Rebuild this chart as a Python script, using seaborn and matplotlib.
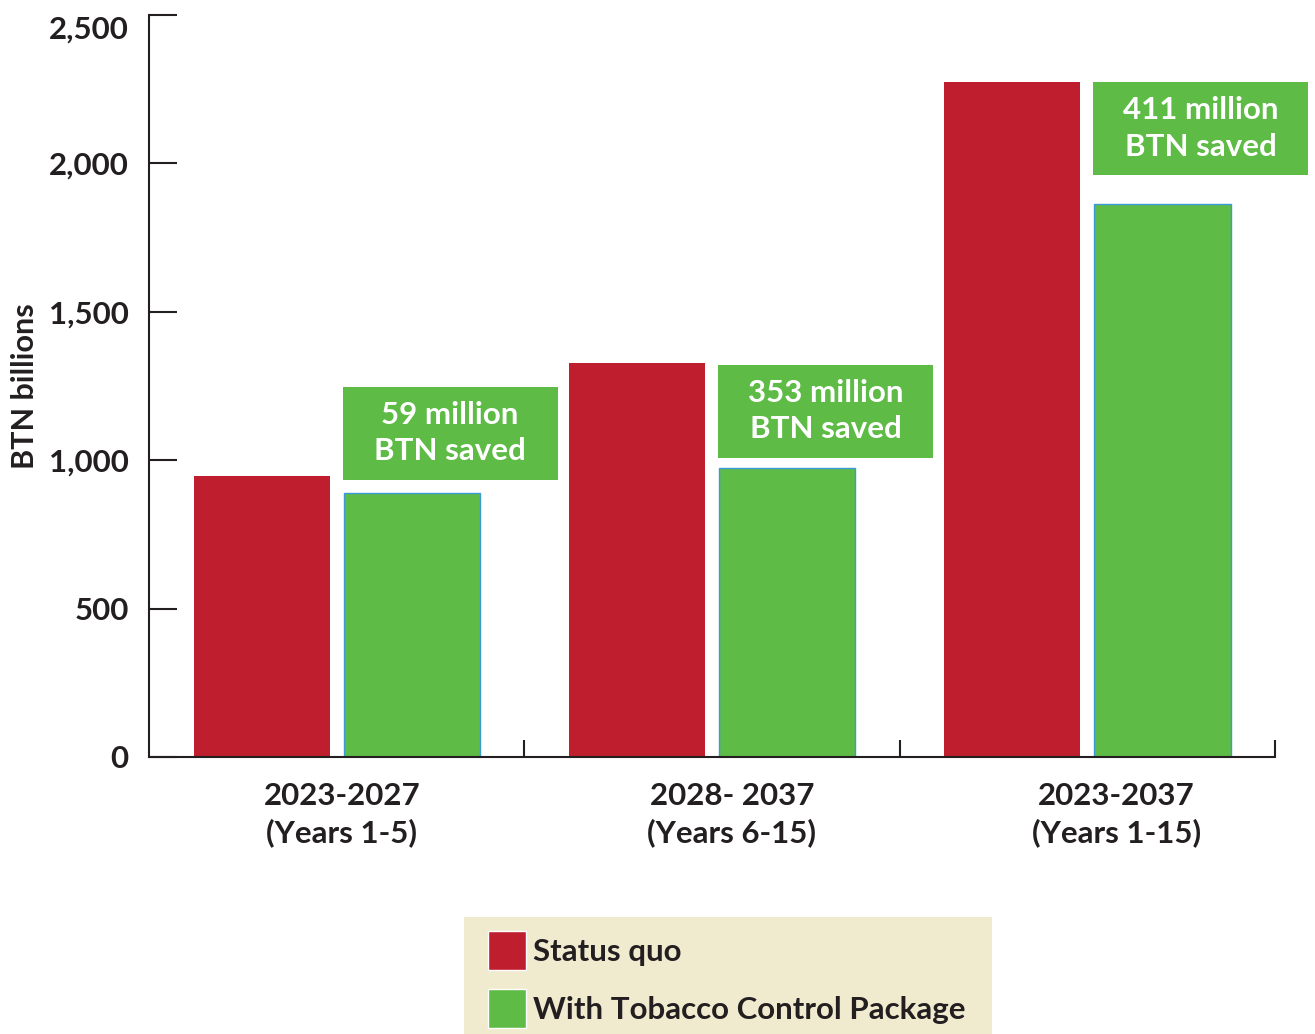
import pandas as pd
import matplotlib.pyplot as plt
import seaborn as sns
from matplotlib.patches import Patch, Rectangle
from matplotlib.ticker import FuncFormatter, FixedLocator
from matplotlib.transforms import ScaledTranslation

periods = ["2023-2027\n(Years 1-5)", "2028- 2037\n(Years 6-15)", "2023-2037\n(Years 1-15)"]
status_quo = [948, 1326, 2273]
with_package = [889, 973, 1862]
saved_labels = ["59 million\nBTN saved", "353 million\nBTN saved", "411 million\nBTN saved"]
scenarios = ["Status quo", "With Tobacco Control Package"]

RED = "#BE1E2D"
GREEN = "#5DBB46"
DARK = "#231F20"
FS = 22.5

sns.set_style("ticks")
plt.rcParams["font.family"] = ["Lato", "DejaVu Sans"]
plt.rcParams["font.weight"] = "bold"
plt.rcParams["axes.labelweight"] = "bold"

df = pd.DataFrame({
    "period": periods * 2,
    "value": status_quo + with_package,
    "scenario": [scenarios[0]] * 3 + [scenarios[1]] * 3,
})

fig = plt.figure(figsize=(13.15, 10.34), dpi=100)
ax = fig.add_axes([0.1133, 0.2679, 0.8563, 0.7176])

sns.barplot(data=df, x="period", y="value", hue="scenario", palette=[RED, GREEN],
            width=0.8, gap=0.093, saturation=1, errorbar=None, legend=False, ax=ax)
for bar in ax.containers[0]:
    bar.set_edgecolor("none")
for bar in ax.containers[1]:
    bar.set_edgecolor("#3B9AD6")
    bar.set_linewidth(1)

# savings call-out boxes
box_bottom = [933, 1007, 1960]
box_h = 315
box_w = 0.573
for bar, bottom, txt in zip(ax.containers[1], box_bottom, saved_labels):
    x0 = bar.get_x() - 0.003
    ax.add_patch(Rectangle((x0, bottom), box_w, box_h, facecolor=GREEN,
                           edgecolor="none", clip_on=False, zorder=3))
    ax.text(x0 + box_w / 2, bottom + box_h / 2, txt, ha="center", va="center",
            color="white", fontsize=FS, linespacing=1.35, zorder=4, clip_on=False)

ax.set_xlim(-0.5, 2.5)
ax.set_ylim(0, 2500)
ax.set_yticks(range(0, 2501, 500))
ax.yaxis.set_major_formatter(FuncFormatter(lambda v, p: f"{int(v):,}"))
ax.set_xticks([0.014, 1.053, 2.077])
ax.set_xticklabels(periods, linespacing=1.35)
ax.xaxis.set_minor_locator(FixedLocator([0.5, 1.5, 2.5]))
ax.tick_params(axis="x", which="major", length=0, pad=18, labelsize=FS, labelcolor=DARK)
ax.tick_params(axis="x", which="minor", direction="in", length=12, width=1.5, color=DARK)
ax.tick_params(axis="y", direction="in", length=20, width=1.5, color=DARK,
               pad=14.5, labelsize=FS, labelcolor=DARK)
ax.set_xlabel("")
ax.set_ylabel("BTN billions", fontsize=22, color=DARK)
ax.yaxis.set_label_coords(-0.098, 0.5)
sns.despine(ax=ax)
for s in ["left", "bottom"]:
    ax.spines[s].set_linewidth(1.5)
    ax.spines[s].set_color(DARK)

# top label sits a little below its tick in the original
top_lab = ax.get_yticklabels()[-1]
top_lab.set_transform(top_lab.get_transform() + ScaledTranslation(0, -0.12, fig.dpi_scale_trans))

# legend on a beige panel running off the bottom edge
fig.patches.append(Rectangle((464 / 1315, 0), (992 - 464) / 1315, (1034 - 917) / 1034,
                             transform=fig.transFigure, facecolor="#F0EACF",
                             edgecolor="none", zorder=0))
handles = [Patch(facecolor=RED, label=scenarios[0]), Patch(facecolor=GREEN, label=scenarios[1])]
leg = fig.legend(handles=handles, loc="upper left", bbox_to_anchor=(488 / 1315, 1 - 931 / 1034),
                 fontsize=FS, frameon=False, borderpad=0, borderaxespad=0,
                 handlelength=1.22, handleheight=1.54, handletextpad=0.22,
                 labelspacing=0.61)
for t in leg.get_texts():
    t.set_color(DARK)

fig.savefig("out.png", dpi=100)
